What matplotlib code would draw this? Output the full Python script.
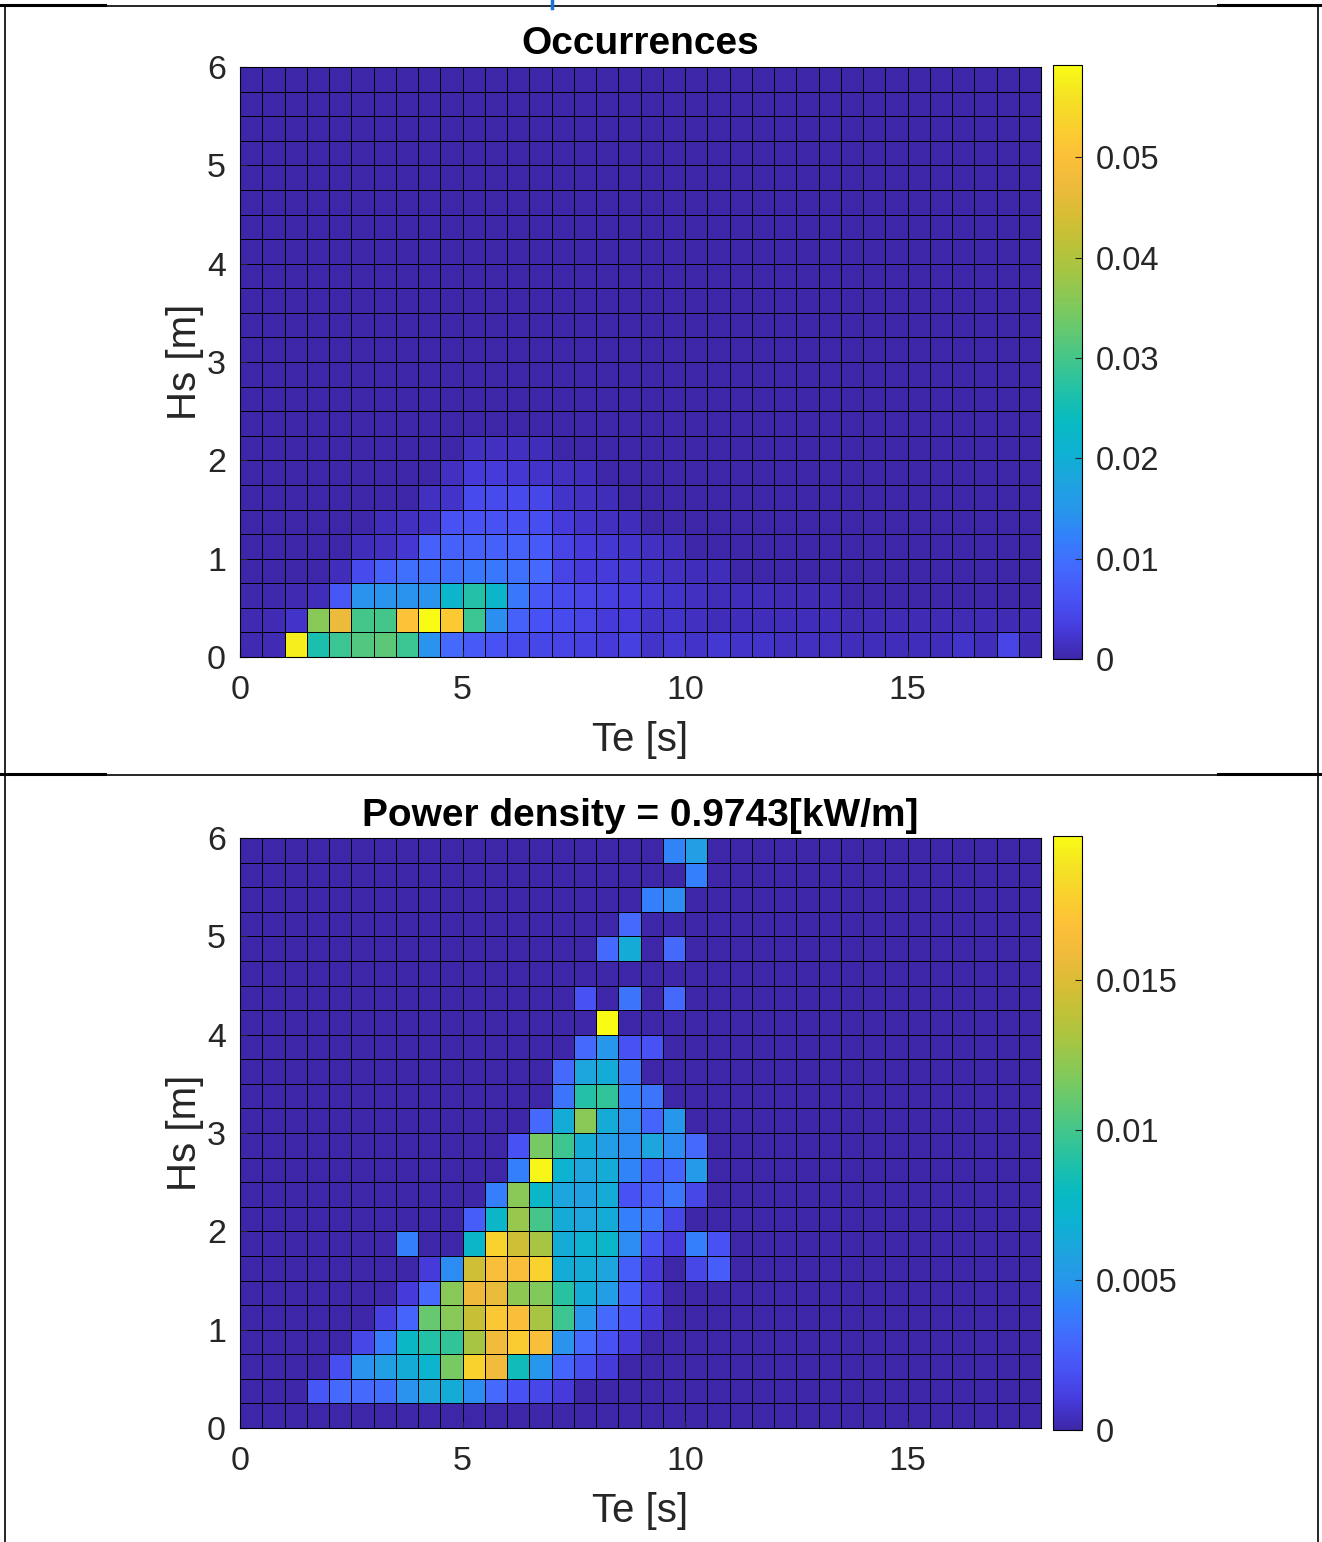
import numpy as np
import matplotlib.pyplot as plt
from matplotlib.colors import LinearSegmentedColormap
from matplotlib.lines import Line2D

plt.rcParams['font.family'] = ['Liberation Sans', 'DejaVu Sans']

# scatter diagram bins
te_step = 0.5     # s
hs_step = 0.25    # m
te_max = 18
hs_max = 6

# occurrences, one list per Hs bin (Hs = 0 upward), values per Te bin from Te = 0
occ_00 = [0.0005, 0.0008, 0.0575, 0.026, 0.029, 0.031, 0.032, 0.029, 0.0145, 0.009,
          0.007, 0.006, 0.005, 0.0045, 0.004, 0.0035, 0.003, 0.0035, 0.002, 0.0025,
          0.002, 0.0025, 0.002, 0.002, 0.0015, 0.0015, 0.0012, 0.001, 0.001, 0.001,
          0.001, 0.001, 0.002, 0.001, 0.004, 0.0008]
occ_01 = [0.0005, 0.0008, 0.002, 0.036, 0.047, 0.030, 0.030, 0.0505, 0.0592, 0.052,
          0.029, 0.014, 0.008, 0.006, 0.005, 0.004, 0.003, 0.003, 0.002, 0.002,
          0.0015, 0.001, 0.001, 0.001, 0.001, 0.001, 0.001, 0.0008, 0.0008, 0.0008,
          0.0008, 0.0008, 0.0008, 0.0008, 0.0008, 0.0008]
occ_02 = [0.0003, 0.0003, 0.0005, 0.001, 0.0065, 0.0145, 0.0145, 0.0145, 0.0145, 0.022,
          0.027, 0.022, 0.011, 0.0065, 0.005, 0.004, 0.0035, 0.003, 0.0025, 0.002,
          0.0015, 0.001, 0.001, 0.001, 0.0008, 0.0008, 0.0008]
occ_03 = [0, 0, 0, 0, 0.001, 0.005, 0.008, 0.010, 0.010, 0.010,
          0.011, 0.011, 0.010, 0.009, 0.004, 0.003, 0.003, 0.0025, 0.002, 0.0015,
          0.001, 0.001]
occ_04 = [0, 0, 0, 0, 0, 0.001, 0.0015, 0.0025, 0.008, 0.008,
          0.008, 0.008, 0.008, 0.007, 0.004, 0.003, 0.0025, 0.002, 0.0015, 0.001]
occ_05 = [0, 0, 0, 0, 0, 0, 0.001, 0.0015, 0.002, 0.006,
          0.006, 0.006, 0.006, 0.0055, 0.003, 0.002, 0.0015, 0.001]
occ_06 = [0, 0, 0, 0, 0, 0, 0, 0, 0.0015, 0.002,
          0.005, 0.005, 0.005, 0.0045, 0.002, 0.0015, 0.001]
occ_07 = [0, 0, 0, 0, 0, 0, 0, 0, 0, 0.0015,
          0.003, 0.003, 0.0025, 0.002, 0.0015, 0.001]
occ_08 = [0, 0, 0, 0, 0, 0, 0, 0, 0, 0,
          0.0015, 0.0015, 0.0015, 0.001]

# power density contribution per bin [kW/m]
pd_00 = []
pd_01 = [0, 0, 0, 0.0022, 0.003, 0.003, 0.0032, 0.0048, 0.006, 0.0065,
         0.0045, 0.003, 0.002, 0.0015, 0.001]
pd_02 = [0, 0, 0, 0, 0.0018, 0.0048, 0.0055, 0.0065, 0.0072, 0.0115,
         0.0178, 0.016, 0.0082, 0.005, 0.0028, 0.0018, 0.001]
pd_03 = [0, 0, 0, 0, 0, 0.0015, 0.0038, 0.0078, 0.009, 0.0095,
         0.013, 0.016, 0.0175, 0.0165, 0.0048, 0.003, 0.002, 0.001]
pd_04 = [0, 0, 0, 0, 0, 0, 0.0012, 0.0028, 0.011, 0.012,
         0.0142, 0.0172, 0.0165, 0.013, 0.0098, 0.005, 0.003, 0.002, 0.001]
pd_05 = [0, 0, 0, 0, 0, 0, 0, 0.001, 0.003, 0.012,
         0.0158, 0.0155, 0.0122, 0.0118, 0.0092, 0.0065, 0.0055, 0.0025, 0.001]
pd_06 = [0, 0, 0, 0, 0, 0, 0, 0, 0.001, 0.0045,
         0.0145, 0.0165, 0.0165, 0.0178, 0.0065, 0.0065, 0.006, 0.0025, 0.001, 0,
         0.0015, 0.0025]
pd_07 = [0, 0, 0, 0, 0, 0, 0, 0.004, 0, 0,
         0.0075, 0.0178, 0.0145, 0.013, 0.0065, 0.007, 0.0075, 0.0045, 0.002, 0.001,
         0.004, 0.002]
pd_08 = [0, 0, 0, 0, 0, 0, 0, 0, 0, 0,
         0.0025, 0.0075, 0.0125, 0.010, 0.0065, 0.006, 0.0065, 0.004, 0.0035, 0.0015]
pd_09 = [0, 0, 0, 0, 0, 0, 0, 0, 0, 0,
         0, 0.004, 0.012, 0.0075, 0.006, 0.0058, 0.0065, 0.002, 0.0025, 0.0035,
         0.0015]
pd_10 = [0, 0, 0, 0, 0, 0, 0, 0, 0, 0,
         0, 0, 0.004, 0.0195, 0.007, 0.006, 0.0065, 0.0042, 0.0025, 0.0028,
         0.0052]
pd_11 = [0, 0, 0, 0, 0, 0, 0, 0, 0, 0,
         0, 0, 0.002, 0.0115, 0.0098, 0.0065, 0.0055, 0.0045, 0.006, 0.0045,
         0.003]
pd_12 = [0, 0, 0, 0, 0, 0, 0, 0, 0, 0,
         0, 0, 0, 0.003, 0.0065, 0.012, 0.0065, 0.0045, 0.0028, 0.005]
pd_13 = [0, 0, 0, 0, 0, 0, 0, 0, 0, 0,
         0, 0, 0, 0, 0.0035, 0.009, 0.0095, 0.004, 0.0035]
pd_14 = [0, 0, 0, 0, 0, 0, 0, 0, 0, 0,
         0, 0, 0, 0, 0.003, 0.006, 0.0065, 0.0035]
pd_15 = [0, 0, 0, 0, 0, 0, 0, 0, 0, 0,
         0, 0, 0, 0, 0, 0.003, 0.005, 0.002, 0.002]
pd_16 = [0, 0, 0, 0, 0, 0, 0, 0, 0, 0,
         0, 0, 0, 0, 0, 0, 0.0198]
pd_17 = [0, 0, 0, 0, 0, 0, 0, 0, 0, 0,
         0, 0, 0, 0, 0, 0.002, 0, 0.0035, 0, 0.003]
pd_18 = []
pd_19 = [0, 0, 0, 0, 0, 0, 0, 0, 0, 0,
         0, 0, 0, 0, 0, 0, 0.003, 0.0065, 0, 0.003]
pd_20 = [0, 0, 0, 0, 0, 0, 0, 0, 0, 0,
         0, 0, 0, 0, 0, 0, 0, 0.003]
pd_21 = [0, 0, 0, 0, 0, 0, 0, 0, 0, 0,
         0, 0, 0, 0, 0, 0, 0, 0, 0.004, 0.0045]
pd_22 = [0, 0, 0, 0, 0, 0, 0, 0, 0, 0,
         0, 0, 0, 0, 0, 0, 0, 0, 0, 0,
         0.004]
pd_23 = [0, 0, 0, 0, 0, 0, 0, 0, 0, 0,
         0, 0, 0, 0, 0, 0, 0, 0, 0, 0.0042,
         0.0055]

occ_title = 'Occurrences'
pd_title = 'Power density = 0.9743[kW/m]'
occ_cticks = [0, 0.01, 0.02, 0.03, 0.04, 0.05]
occ_clabels = ['0', '0.01', '0.02', '0.03', '0.04', '0.05']
pd_cticks = [0, 0.005, 0.01, 0.015]
pd_clabels = ['0', '0.005', '0.01', '0.015']

# parula-like colormap (MATLAB default)
parula_pts = [
    (0.2422, 0.1504, 0.6603), (0.2760, 0.2349, 0.8655), (0.2810, 0.3228, 0.9579),
    (0.2691, 0.4076, 0.9939), (0.2055, 0.4967, 0.9850), (0.1540, 0.5902, 0.9218),
    (0.1160, 0.6433, 0.8712), (0.0504, 0.6953, 0.8226), (0.0332, 0.7287, 0.7581),
    (0.1258, 0.7558, 0.6573), (0.2504, 0.7753, 0.5567), (0.3842, 0.7868, 0.4487),
    (0.5157, 0.7863, 0.3485), (0.6366, 0.7749, 0.2695), (0.7453, 0.7590, 0.2197),
    (0.8478, 0.7416, 0.2077), (0.9368, 0.7306, 0.2342), (0.9914, 0.7537, 0.2231),
    (0.9787, 0.8193, 0.1797), (0.9586, 0.8890, 0.1405), (0.9769, 0.9839, 0.0805)]
parula = LinearSegmentedColormap.from_list('parula', parula_pts, N=256)


def build_grid(rows, ncols, nrows):
    grid = np.zeros((nrows, ncols))
    for i, r in enumerate(rows):
        grid[i, :len(r)] = r
    return grid


te_edges = np.arange(0, te_max + te_step / 2, te_step)
hs_edges = np.arange(0, hs_max + hs_step / 2, hs_step)
nte = len(te_edges) - 1
nhs = len(hs_edges) - 1

occ = build_grid([occ_00, occ_01, occ_02, occ_03, occ_04, occ_05, occ_06, occ_07, occ_08],
                 nte, nhs)
pd = build_grid([pd_00, pd_01, pd_02, pd_03, pd_04, pd_05, pd_06, pd_07, pd_08, pd_09,
                 pd_10, pd_11, pd_12, pd_13, pd_14, pd_15, pd_16, pd_17, pd_18, pd_19,
                 pd_20, pd_21, pd_22, pd_23], nte, nhs)

W, H = 1322, 1542
fig = plt.figure(figsize=(W / 100, H / 100), dpi=100)


def px(x0, y0, x1, y1):
    return [x0 / W, 1 - y1 / H, (x1 - x0) / W, (y1 - y0) / H]


def panel(ax_box, cax_box, data, title, cticks, clabels):
    ax = fig.add_axes(px(*ax_box))
    cax = fig.add_axes(px(*cax_box))
    mesh = ax.pcolormesh(te_edges, hs_edges, data, cmap=parula, vmin=0, vmax=data.max(),
                         edgecolors='black', linewidth=0.65)
    ax.set_xlim(0, te_max)
    ax.set_ylim(0, hs_max)
    ax.set_xticks([0, 5, 10, 15])
    ax.set_yticks(range(0, 7))
    ax.tick_params(direction='in', length=5, labelsize=24.5, colors='#262626')
    ax.tick_params(axis='x', pad=13)
    ax.tick_params(axis='y', pad=10)
    ax.set_xlabel('Te [s]', fontsize=29, color='#262626', labelpad=11)
    ax.set_ylabel('Hs [m]', fontsize=29, color='#262626', labelpad=2)
    ax.set_title(title, fontsize=28, fontweight='bold', pad=9)
    for s in ax.spines.values():
        s.set_linewidth(0.8)
    cb = fig.colorbar(mesh, cax=cax, ticks=cticks)
    cb.ax.set_yticklabels(clabels)
    cb.ax.tick_params(direction='in', length=5, labelsize=23.5, colors='#262626', pad=10)
    cb.outline.set_linewidth(0.8)
    return ax


panel((240, 67, 1041, 657), (1053, 65, 1082, 659), occ, occ_title, occ_cticks, occ_clabels)
panel((240, 838, 1041, 1428), (1053, 836, 1082, 1430), pd, pd_title, pd_cticks, pd_clabels)

# document table borders around the two figures
def hline(y, x0, x1, lw):
    fig.add_artist(Line2D([x0 / W, x1 / W], [1 - y / H, 1 - y / H], color='black', lw=lw))


def vline(x, y0, y1, lw):
    fig.add_artist(Line2D([x / W, x / W], [1 - y0 / H, 1 - y1 / H], color='black', lw=lw))


for y in (6, 775):
    hline(y, 5, 1318, 1.2)
    hline(y - 1, 0, 105, 2.2)
    hline(y - 1, 1218, W, 2.2)
vline(5, 5, H, 1.2)
vline(1318, 5, H, 1.2)
fig.add_artist(Line2D([552 / W, 552 / W], [1.0, 1 - 8 / H], color='#1a73d9', lw=2.5))

fig.savefig('out.png', dpi=100)
